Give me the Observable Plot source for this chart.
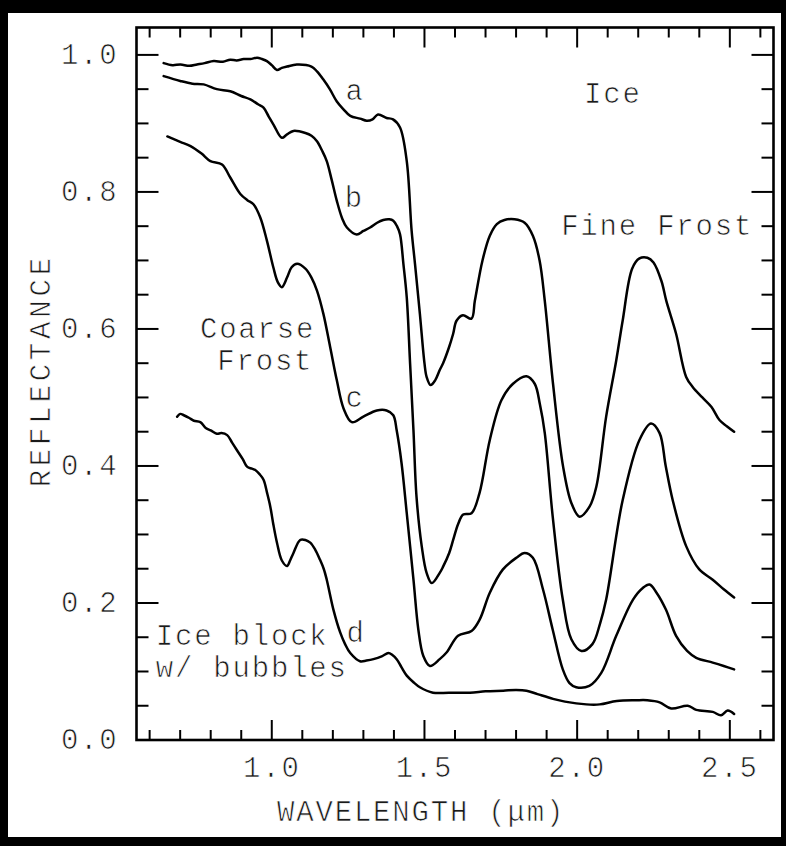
<!DOCTYPE html>
<html>
<head>
<meta charset="utf-8">
<script src="https://cdn.jsdelivr.net/npm/d3@7"></script>
<script src="https://cdn.jsdelivr.net/npm/@observablehq/plot@0.6"></script>
<style>
  html, body { margin: 0; padding: 0; background: #000; }
  body { width: 786px; height: 846px; overflow: hidden; position: relative; }
  #chart { position: absolute; left: 8px; top: 13px; width: 773px; height: 824px; background: #fff; }
  #chart svg { display: block; }
  #chart text { font-family: "Liberation Mono", "DejaVu Sans Mono", monospace; letter-spacing: 1.8px; }
</style>
</head>
<body>
<div id="chart"></div>
<script>
// Reflectance spectra of water ice in four physical forms
const iceWavelength = [0.646, 0.675, 0.701, 0.73, 0.755, 0.78, 0.81, 0.84, 0.864, 0.885, 0.908, 0.93, 0.952, 0.968, 0.984, 1.0, 1.017, 1.033, 1.05, 1.082, 1.13, 1.148, 1.169, 1.19, 1.213, 1.234, 1.257, 1.289, 1.311, 1.33, 1.348, 1.376, 1.397, 1.42, 1.442, 1.458, 1.469, 1.485, 1.5, 1.507, 1.52, 1.535, 1.55, 1.561, 1.581, 1.594, 1.605, 1.626, 1.654, 1.665, 1.69, 1.714, 1.737, 1.762, 1.795, 1.828, 1.855, 1.877, 1.894, 1.921, 1.954, 1.981, 2.008, 2.041, 2.063, 2.095, 2.128, 2.149, 2.18, 2.204, 2.23, 2.25, 2.276, 2.292, 2.324, 2.357, 2.379, 2.41, 2.44, 2.466, 2.49, 2.514];
const iceReflectance = [0.988, 0.985, 0.986, 0.984, 0.986, 0.988, 0.991, 0.99, 0.993, 0.992, 0.994, 0.994, 0.996, 0.994, 0.991, 0.985, 0.978, 0.981, 0.983, 0.986, 0.983, 0.976, 0.964, 0.95, 0.932, 0.921, 0.911, 0.907, 0.904, 0.906, 0.913, 0.908, 0.906, 0.894, 0.845, 0.743, 0.695, 0.622, 0.55, 0.53, 0.518, 0.525, 0.54, 0.55, 0.574, 0.593, 0.612, 0.62, 0.615, 0.641, 0.7, 0.736, 0.753, 0.759, 0.76, 0.755, 0.736, 0.7, 0.641, 0.52, 0.399, 0.346, 0.326, 0.341, 0.37, 0.472, 0.554, 0.612, 0.688, 0.703, 0.704, 0.697, 0.67, 0.641, 0.593, 0.53, 0.515, 0.5, 0.486, 0.467, 0.458, 0.45];

const fineWavelength = [0.646, 0.7, 0.74, 0.777, 0.82, 0.864, 0.9, 0.93, 0.955, 0.973, 0.99, 1.006, 1.033, 1.05, 1.071, 1.11, 1.13, 1.148, 1.165, 1.18, 1.196, 1.213, 1.23, 1.246, 1.278, 1.3, 1.322, 1.345, 1.365, 1.385, 1.398, 1.41, 1.42, 1.431, 1.442, 1.453, 1.464, 1.474, 1.491, 1.507, 1.524, 1.55, 1.561, 1.581, 1.594, 1.61, 1.627, 1.654, 1.68, 1.714, 1.752, 1.79, 1.834, 1.861, 1.878, 1.894, 1.92, 1.953, 1.981, 2.014, 2.05, 2.075, 2.095, 2.149, 2.204, 2.242, 2.27, 2.29, 2.313, 2.357, 2.4, 2.444, 2.48, 2.514];
const fineReflectance = [0.969, 0.962, 0.958, 0.957, 0.95, 0.947, 0.94, 0.935, 0.928, 0.923, 0.91, 0.898, 0.879, 0.884, 0.889, 0.886, 0.882, 0.874, 0.86, 0.845, 0.818, 0.787, 0.762, 0.748, 0.738, 0.743, 0.748, 0.755, 0.759, 0.76, 0.758, 0.75, 0.738, 0.695, 0.646, 0.549, 0.452, 0.355, 0.283, 0.244, 0.229, 0.244, 0.253, 0.273, 0.292, 0.315, 0.329, 0.331, 0.36, 0.438, 0.496, 0.52, 0.531, 0.52, 0.49, 0.448, 0.326, 0.205, 0.147, 0.13, 0.14, 0.17, 0.205, 0.35, 0.438, 0.462, 0.448, 0.4, 0.35, 0.283, 0.249, 0.234, 0.22, 0.208];

const coarseWavelength = [0.658, 0.7, 0.734, 0.77, 0.799, 0.837, 0.864, 0.897, 0.92, 0.94, 0.962, 0.984, 1.005, 1.02, 1.033, 1.05, 1.065, 1.083, 1.11, 1.13, 1.148, 1.169, 1.191, 1.213, 1.235, 1.262, 1.3, 1.344, 1.376, 1.398, 1.409, 1.425, 1.442, 1.464, 1.48, 1.496, 1.518, 1.55, 1.573, 1.61, 1.654, 1.681, 1.714, 1.757, 1.801, 1.828, 1.855, 1.888, 1.92, 1.953, 1.975, 1.997, 2.04, 2.079, 2.128, 2.183, 2.215, 2.237, 2.26, 2.291, 2.324, 2.36, 2.39, 2.444, 2.48, 2.514];
const coarseReflectance = [0.881, 0.873, 0.867, 0.856, 0.845, 0.84, 0.821, 0.797, 0.788, 0.782, 0.763, 0.729, 0.69, 0.668, 0.661, 0.675, 0.69, 0.695, 0.688, 0.675, 0.656, 0.622, 0.574, 0.525, 0.484, 0.464, 0.472, 0.481, 0.481, 0.474, 0.452, 0.404, 0.331, 0.234, 0.161, 0.123, 0.108, 0.118, 0.128, 0.152, 0.159, 0.176, 0.215, 0.249, 0.266, 0.273, 0.266, 0.22, 0.161, 0.103, 0.083, 0.077, 0.079, 0.098, 0.152, 0.205, 0.222, 0.227, 0.215, 0.19, 0.152, 0.13, 0.12, 0.113, 0.108, 0.103];

const blockWavelength = [0.69, 0.7, 0.712, 0.73, 0.745, 0.766, 0.785, 0.8, 0.82, 0.835, 0.854, 0.87, 0.886, 0.905, 0.919, 0.935, 0.946, 0.96, 0.973, 0.985, 0.995, 1.005, 1.017, 1.033, 1.05, 1.06, 1.071, 1.093, 1.11, 1.126, 1.142, 1.158, 1.17, 1.18, 1.202, 1.224, 1.24, 1.257, 1.289, 1.31, 1.333, 1.36, 1.382, 1.395, 1.409, 1.425, 1.442, 1.465, 1.485, 1.528, 1.58, 1.649, 1.7, 1.758, 1.8, 1.834, 1.87, 1.921, 1.96, 2.03, 2.074, 2.13, 2.193, 2.23, 2.27, 2.308, 2.362, 2.39, 2.444, 2.471, 2.493, 2.514];
const blockReflectance = [0.472, 0.476, 0.474, 0.47, 0.466, 0.464, 0.455, 0.452, 0.447, 0.448, 0.445, 0.434, 0.423, 0.41, 0.399, 0.396, 0.394, 0.388, 0.38, 0.36, 0.341, 0.315, 0.288, 0.262, 0.254, 0.262, 0.273, 0.292, 0.292, 0.288, 0.278, 0.263, 0.25, 0.234, 0.19, 0.157, 0.14, 0.127, 0.115, 0.116, 0.118, 0.122, 0.127, 0.124, 0.118, 0.106, 0.094, 0.084, 0.077, 0.069, 0.069, 0.069, 0.071, 0.072, 0.073, 0.072, 0.067, 0.06, 0.056, 0.052, 0.052, 0.057, 0.058, 0.058, 0.055, 0.046, 0.05, 0.044, 0.041, 0.036, 0.043, 0.038];

// Axis ticks
const xTickLabels = [1.0, 1.5, 2.0, 2.5];
const xMinorTicks = [0.6, 0.7, 0.8, 0.9, 1.1, 1.2, 1.3, 1.4, 1.6, 1.7, 1.8, 1.9, 2.1, 2.2, 2.3, 2.4, 2.6];
const yTickLabels = [0.0, 0.2, 0.4, 0.6, 0.8, 1.0];
const yMinorTicks = [0.05, 0.1, 0.15, 0.25, 0.3, 0.35, 0.45, 0.5, 0.55, 0.65, 0.7, 0.75, 0.85, 0.9, 0.95];

const spectra = [
  {name: "Ice", w: iceWavelength, r: iceReflectance},
  {name: "Fine Frost", w: fineWavelength, r: fineReflectance},
  {name: "Coarse Frost", w: coarseWavelength, r: coarseReflectance},
  {name: "Ice block w/ bubbles", w: blockWavelength, r: blockReflectance}
];
const rows = spectra.flatMap(s => s.w.map((w, i) => ({sample: s.name, wavelength: w, reflectance: s.r[i]})));

// tick drawn from the anchor point along the vector's direction
const tickShape = {draw(context, l) { context.moveTo(0, 0); context.lineTo(0, -l); }};
const tickStyle = {anchor: "start", shape: tickShape, stroke: "#000", strokeWidth: 2, strokeLinecap: "butt"};

// thin plotter-style lettering: a fine white stroke laid over the glyph fill
const font = {fontSize: 29, fill: "#1a1a1a", stroke: "#fff", strokeWidth: 0.7, paintOrder: "normal"};

const plot = Plot.plot({
  width: 773,
  height: 824,
  marginLeft: 128,
  marginRight: 8,
  marginTop: 14,
  marginBottom: 97.5,
  x: {domain: [0.557, 2.643], axis: null},
  y: {domain: [0, 1.04], axis: null},
  marks: [
    // ticks on all four sides, pointing inward
    Plot.vector(xMinorTicks, {x: d => d, frameAnchor: "bottom", rotate: 0, length: 10, ...tickStyle}),
    Plot.vector(xTickLabels, {x: d => d, frameAnchor: "bottom", rotate: 0, length: 20, ...tickStyle}),
    Plot.vector(xMinorTicks, {x: d => d, frameAnchor: "top", rotate: 180, length: 10, ...tickStyle}),
    Plot.vector(xTickLabels, {x: d => d, frameAnchor: "top", rotate: 180, length: 20, ...tickStyle}),
    Plot.vector(yMinorTicks, {y: d => d, frameAnchor: "left", rotate: 90, length: 12, ...tickStyle}),
    Plot.vector(yTickLabels, {y: d => d, frameAnchor: "left", rotate: 90, length: 22, ...tickStyle}),
    Plot.vector(yMinorTicks, {y: d => d, frameAnchor: "right", rotate: -90, length: 12, ...tickStyle}),
    Plot.vector(yTickLabels, {y: d => d, frameAnchor: "right", rotate: -90, length: 22, ...tickStyle}),
    Plot.frame({stroke: "#000", strokeWidth: 2.6}),

    // tick labels
    Plot.text(xTickLabels, {x: d => d, frameAnchor: "bottom", dy: 37, textAnchor: "middle", text: d => d.toFixed(1), ...font}),
    Plot.text(yTickLabels, {y: d => d, frameAnchor: "left", dx: -18, textAnchor: "end", text: d => d.toFixed(1), ...font}),

    // axis titles
    Plot.text(["WAVELENGTH (μm)"], {x: 1.489, frameAnchor: "bottom", dy: 81, textAnchor: "middle", text: d => d, ...font}),
    Plot.text(["REFLECTANCE"], {y: 0.539, frameAnchor: "left", dx: -96, rotate: -90, textAnchor: "middle", text: d => d, ...font}),

    // spectra
    Plot.line(rows, {x: "wavelength", y: "reflectance", z: "sample", curve: "catmull-rom", stroke: "#000", strokeWidth: 2.5}),

    // curve letters and sample names
    Plot.text(["a", "b", "c", "d"], {x: [1.273, 1.27, 1.273, 1.276], y: [0.948, 0.792, 0.499, 0.157], text: d => d, ...font}),
    Plot.text(["Ice", "Fine Frost"], {x: [2.117, 2.262], y: [0.943, 0.75], text: d => d, ...font}),
    Plot.text(["Coarse", "Frost"], {x: [1.142, 1.136], y: [0.601, 0.554], textAnchor: "end", text: d => d, ...font}),
    Plot.text(["Ice block", "w/ bubbles"], {x: [0.62, 0.62], y: [0.1526, 0.106], textAnchor: "start", text: d => d, ...font})
  ]
});

// the vertical axis title is set a little wider than the rest of the lettering
d3.select(plot).selectAll("text")
  .filter(function() { return this.textContent === "REFLECTANCE"; })
  .style("letter-spacing", "3.8px");

document.getElementById("chart").appendChild(plot);
</script>
</body>
</html>
